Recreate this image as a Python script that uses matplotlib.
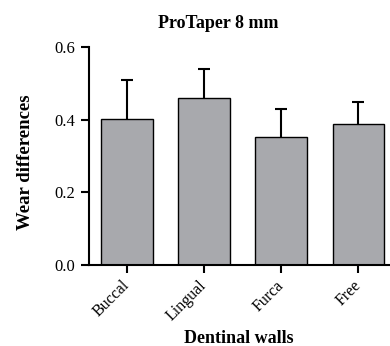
import matplotlib
matplotlib.use("Agg")
import matplotlib.pyplot as plt
import numpy as np

categories = ["Buccal", "Lingual", "Furca", "Free"]
means = [0.403, 0.461, 0.353, 0.388]
sds = [0.107, 0.080, 0.076, 0.060]
yticks = [0.0, 0.2, 0.4, 0.6]
ytick_labels = ["0.0", "0.2", "0.4", "0.6"]

plt.rcParams['font.family'] = ['Liberation Serif', 'DejaVu Serif']

fig = plt.figure(figsize=(3.9, 3.46), dpi=100)
W, H = 390, 346
left = 89 / W
bottom = (H - 265) / H
top = (H - 47.3) / H
ax = fig.add_axes([left, bottom, (390 - 89) / W, top - bottom])
axw = 390 - 89
axh = 265 - 47.3

x = np.arange(len(categories))
ax.bar(x, means, width=0.67, color="#a8a9ad", edgecolor="black", linewidth=1.0, zorder=2)
eb = ax.errorbar(x, means, yerr=[np.zeros(len(sds)), sds], fmt="none", ecolor="black",
                 elinewidth=1.5, capsize=4, capthick=1.5, zorder=1)
# hide lower caps
caps = eb[1]
if len(caps) >= 1:
    caps[0].set_visible(False)

ax.set_xlim(-0.49, 3.41)
ax.set_ylim(0, 0.6)
ax.set_yticks(yticks)
ax.set_yticklabels(ytick_labels, fontsize=12)
ax.set_xticks(x)
ax.set_xticklabels(categories, rotation=45, ha="right", va="center",
                   rotation_mode="anchor", fontsize=11.5)
for s in ["top", "right"]:
    ax.spines[s].set_visible(False)
for s in ["left", "bottom"]:
    ax.spines[s].set_linewidth(1.5)
ax.tick_params(axis="both", direction="out", length=6, width=1.5)
ax.tick_params(axis="y", pad=4)
ax.tick_params(axis="x", pad=7)

ax.set_title("ProTaper 8 mm", fontsize=13, fontweight="bold", pad=14, x=(218 - 89) / axw)
ax.set_ylabel("Wear differences", fontsize=13.5, fontweight="bold")
ax.yaxis.set_label_coords((34 - 89) / axw, (265 - 162) / axh)
ax.set_xlabel("Dentinal walls", fontsize=13, fontweight="bold")
ax.xaxis.set_label_coords((239 - 89) / axw, -(330 - 265) / axh)

fig.savefig("out.png", dpi=100)
